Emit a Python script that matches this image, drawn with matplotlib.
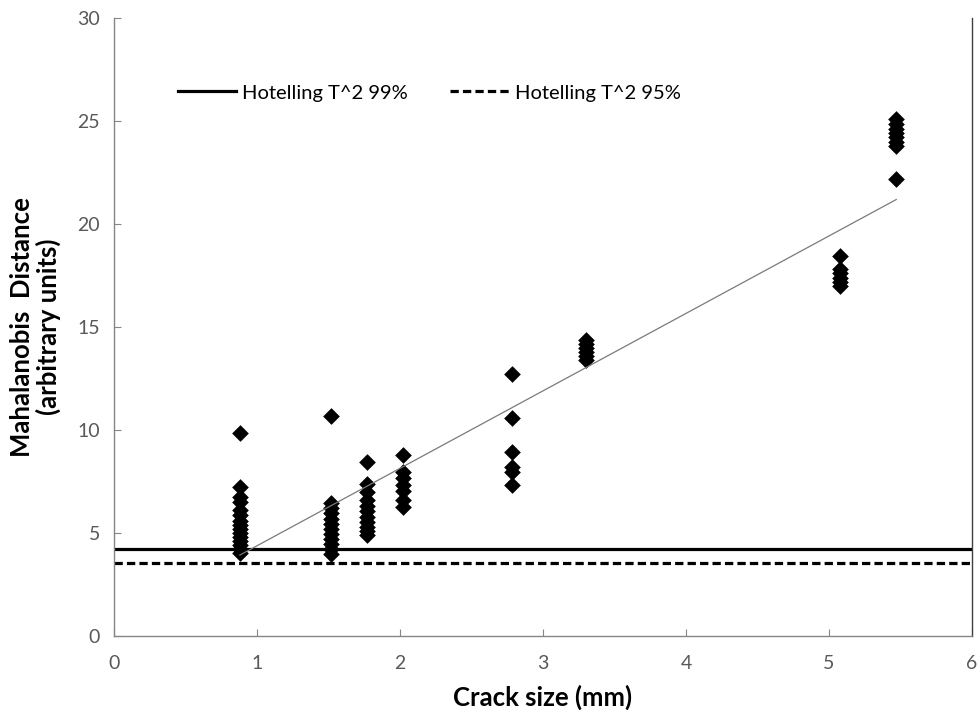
import matplotlib
matplotlib.use("Agg")
import matplotlib.pyplot as plt
import numpy as np

plt.rcParams['font.family'] = ['Lato', 'DejaVu Sans']

# Mahalanobis distance measured at each crack size (mm)
crack_sizes = [0.88, 1.52, 1.77, 2.02, 2.78, 3.30, 5.08, 5.47]
distances = [
    [9.87, 7.25, 6.75, 6.5, 6.1, 5.85, 5.6, 5.4, 5.2, 5.0, 4.8, 4.6, 4.4, 4.2, 4.03],
    [10.7, 6.45, 6.2, 5.95, 5.7, 5.45, 5.2, 4.95, 4.7, 4.45, 4.2, 4.0],
    [8.45, 7.4, 7.0, 6.6, 6.3, 6.05, 5.8, 5.55, 5.3, 5.1, 4.9],
    [8.77, 7.95, 7.65, 7.35, 7.05, 6.6, 6.25],
    [12.7, 10.57, 8.95, 8.22, 7.95, 7.32],
    [14.38, 14.18, 13.98, 13.78, 13.58, 13.4],
    [18.45, 17.8, 17.6, 17.4, 17.2, 17.0],
    [25.1, 24.85, 24.6, 24.4, 24.2, 24.0, 23.8, 22.2],
]

# Linear trend fitted to the damage indicator
trend_slope = 3.76
trend_intercept = 0.62

# Hotelling T^2 thresholds
t2_99 = 4.2
t2_95 = 3.52

xs = np.concatenate([[c] * len(d) for c, d in zip(crack_sizes, distances)])
ys = np.concatenate(distances)

fig = plt.figure(figsize=(9.77, 7.10), dpi=100)
ax = fig.add_axes([114 / 977, 1 - 636 / 710, (972 - 114) / 977, (636 - 18) / 710])

ax.scatter(xs, ys, marker='D', s=8.5 ** 2, color='black', linewidths=0, zorder=3)

tx = np.array([min(crack_sizes), max(crack_sizes)])
ax.plot(tx, trend_intercept + trend_slope * tx, color='#7a7a7a', lw=0.9, zorder=4)

ax.axhline(t2_99, color='black', lw=2.3, label='Hotelling T^2 99%', zorder=2)
ax.axhline(t2_95, color='black', lw=2.3, ls=(0, (2.6, 1.3)),
           label='Hotelling T^2 95%', zorder=2)

ax.set_xlim(0, 6)
ax.set_ylim(0, 30)
ax.set_xticks(range(0, 7))
ax.set_yticks(range(0, 31, 5))

for side in ('left', 'bottom'):
    ax.spines[side].set_color('#868686')
    ax.spines[side].set_linewidth(1.0)
ax.spines['top'].set_visible(False)
ax.spines['right'].set_color('#404040')
ax.spines['right'].set_linewidth(1.0)

ax.tick_params(axis='both', direction='in', length=5, color='#868686',
               labelsize=14, labelcolor='#595959')
ax.tick_params(axis='x', pad=14)
ax.tick_params(axis='y', pad=10)
ax.tick_params(right=False, top=False)

ax.set_xlabel('Crack size (mm)', fontsize=18.5, fontweight='bold', labelpad=9)
ax.set_ylabel('Mahalanobis  Distance\n(arbitrary units)', fontsize=18.5,
              fontweight='bold', labelpad=12, linespacing=1.05)

ax.legend(loc='center left', bbox_to_anchor=((178 - 114) / 858, (636 - 93) / 618),
          ncol=2, frameon=False, fontsize=14.5, handlelength=2.9,
          handletextpad=0.3, columnspacing=2.1, borderpad=0, borderaxespad=0)

fig.savefig('out.png', dpi=100)
